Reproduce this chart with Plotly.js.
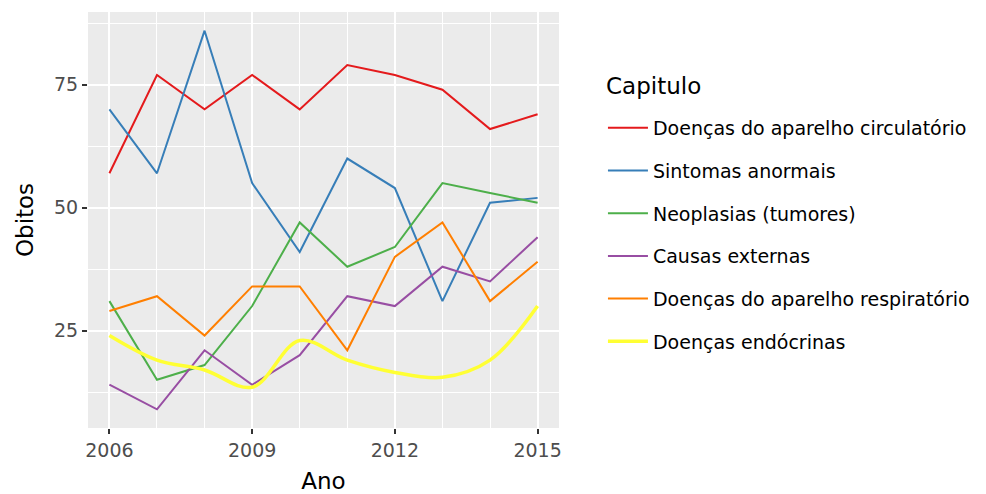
<!DOCTYPE html>
<html>
<head>
<meta charset="utf-8">
<script src="https://cdn.plot.ly/plotly-3.0.1.min.js"></script>
<style>html,body{margin:0;padding:0;background:#fff;}#chart{width:986px;height:494px;}</style>
</head>
<body>
<div id="chart"></div>
<script>
const anos = [2006, 2007, 2008, 2009, 2010, 2011, 2012, 2013, 2014, 2015];
const circulatorio = [57, 77, 70, 77, 70, 79, 77, 74, 66, 69];
const sintomas = [70, 57, 86, 55, 41, 60, 54, 31, 51, 52];
const neoplasias = [31, 15, 18, 30, 47, 38, 42, 55, 53, 51];
const externas = [14, 9, 21, 14, 20, 32, 30, 38, 35, 44];
const respiratorio = [29, 32, 24, 34, 34, 21, 40, 47, 31, 39];
const endocrinas = [24, 19, 17, 13.5, 23, 19, 16.5, 15.5, 19, 30];
const nomes = ["Doenças do aparelho circulatório", "Sintomas anormais", "Neoplasias (tumores)", "Causas externas", "Doenças do aparelho respiratório", "Doenças endócrinas"];
const legendaTitulo = "Capitulo";
const cores = ["#E41A1C", "#377EB8", "#4DAF4A", "#984EA3", "#FF7F00", "#FFFF33"];
const series = [circulatorio, sintomas, neoplasias, externas, respiratorio, endocrinas];

const traces = series.map((s, i) => ({
  x: anos, y: s, type: "scatter", mode: "lines", name: nomes[i],
  legendgroup: "g" + i,
  line: {color: cores[i], width: i === 5 ? 3.5 : 2, shape: i === 5 ? "spline" : "linear"}
}));

const font = "DejaVu Sans, Liberation Sans, Arial, sans-serif";
const layout = {
  width: 986, height: 494,
  margin: {l: 88, r: 426, t: 12, b: 66},
  paper_bgcolor: "#ffffff", plot_bgcolor: "#EBEBEB",
  font: {family: font, color: "#000"},
  showlegend: true,
  legend: {
    x: 1.091, y: 0.767, xanchor: "left", yanchor: "top",
    bgcolor: "rgba(0,0,0,0)",
    font: {family: font, size: 19, color: "#000"},
    tracegroupgap: 15, itemwidth: 40
  },
  annotations: [{
    text: legendaTitulo, xref: "paper", yref: "paper", x: 1.0953, y: 0.822,
    xanchor: "left", yanchor: "middle", showarrow: false,
    font: {family: font, size: 23, color: "#000"}
  }],
  xaxis: {
    range: [2005.55, 2015.45], tickmode: "linear", tick0: 2006, dtick: 3,
    showgrid: true, gridcolor: "#ffffff", gridwidth: 2, zeroline: false,
    minor: {dtick: 1, tick0: 2006, showgrid: true, gridcolor: "#ffffff", gridwidth: 1, ticks: ""},
    ticks: "outside", ticklen: 5, tickwidth: 2, tickcolor: "#333333",
    tickfont: {family: font, size: 19, color: "#4D4D4D"},
    showline: false,
    title: {text: "Ano", font: {family: font, size: 23, color: "#000"}, standoff: 20}
  },
  yaxis: {
    range: [5.2, 89.8], tickmode: "linear", tick0: 0, dtick: 25,
    showgrid: true, gridcolor: "#ffffff", gridwidth: 2, zeroline: false,
    minor: {dtick: 12.5, tick0: 0, showgrid: true, gridcolor: "#ffffff", gridwidth: 1, ticks: ""},
    ticks: "outside", ticklen: 5, tickwidth: 2, tickcolor: "#333333",
    tickfont: {family: font, size: 19, color: "#4D4D4D"},
    showline: false,
    title: {text: "Obitos", font: {family: font, size: 23, color: "#000"}, standoff: 13}
  }
};
Plotly.newPlot("chart", traces, layout, {displayModeBar: false, staticPlot: true});
</script>
</body>
</html>
